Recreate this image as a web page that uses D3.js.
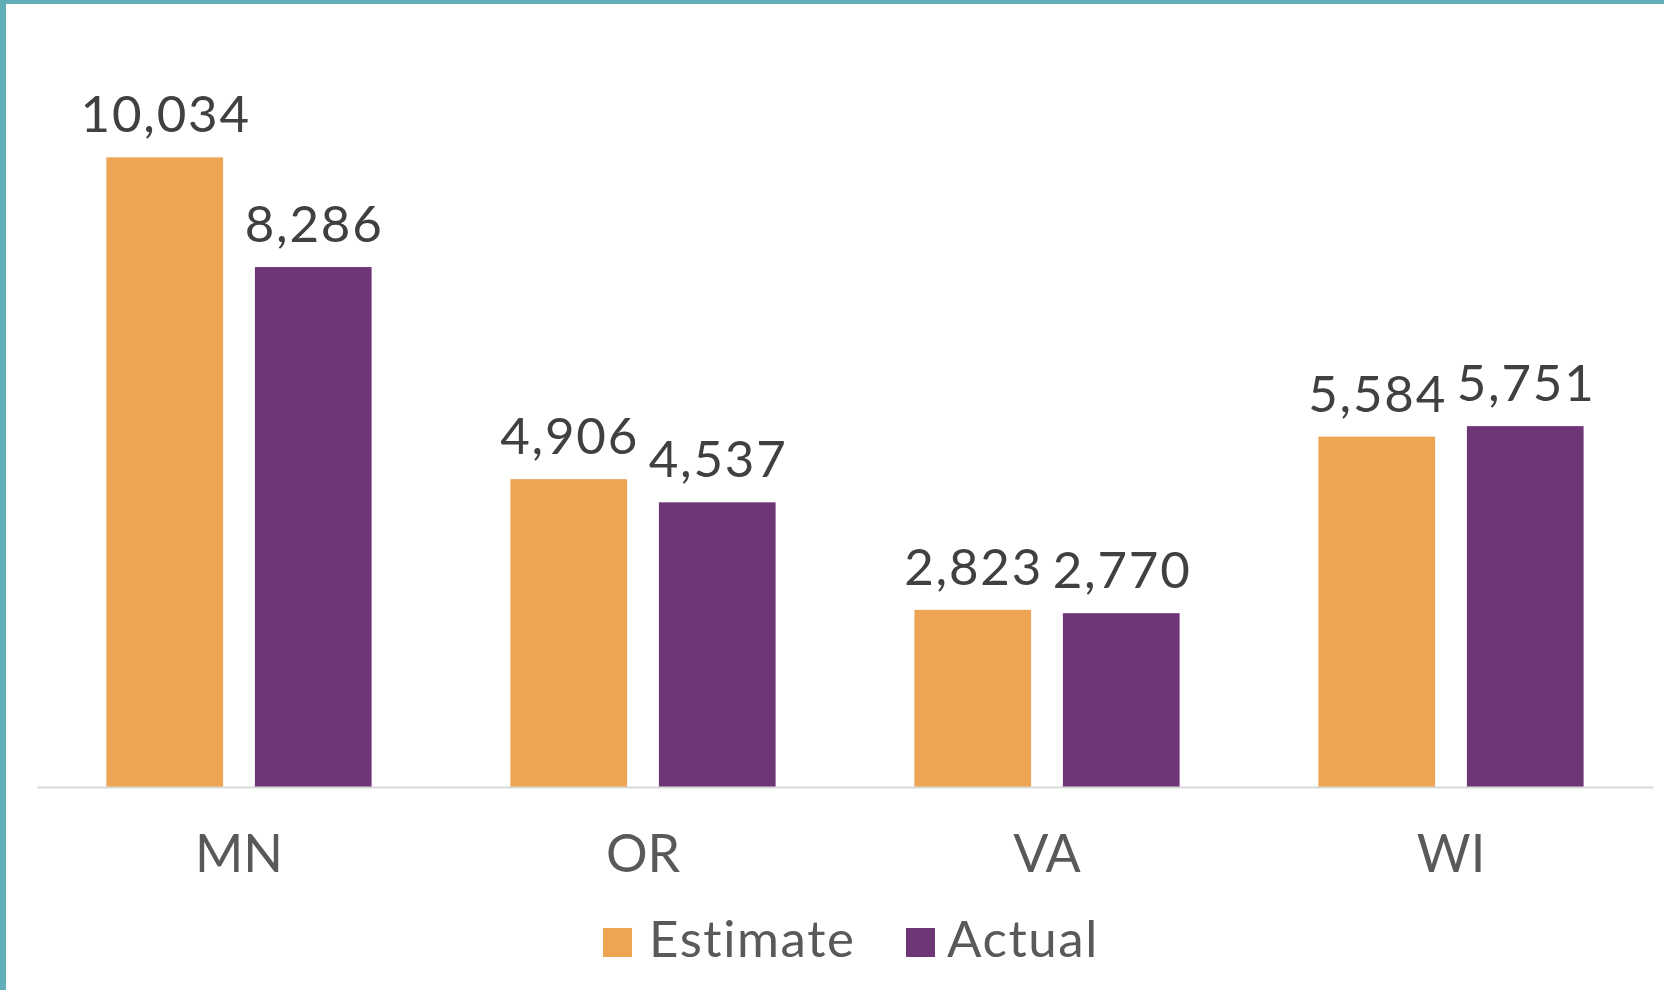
<!DOCTYPE html>
<html>
<head>
<meta charset="utf-8">
<script src="https://cdn.jsdelivr.net/npm/d3@7"></script>
<style>
  html, body { margin: 0; padding: 0; background: #fff; }
  svg { display: block; }
</style>
</head>
<body>
<svg id="chart" width="1664" height="990"></svg>
<script>
const categories = ["MN", "OR", "VA", "WI"];
const seriesNames = ["Estimate", "Actual"];
const estimateValues = [10034, 4906, 2823, 5584];
const actualValues = [8286, 4537, 2770, 5751];
const seriesColors = ["#EDA553", "#6F3677"];

const W = 1664, H = 990;
const svg = d3.select("#chart");
const font = "Lato, 'Open Sans', sans-serif";

// Border (top and left)
svg.append("rect").attr("x", 0).attr("y", 0).attr("width", W).attr("height", 4).attr("fill", "#62AEB8");
svg.append("rect").attr("x", 0).attr("y", 0).attr("width", 6).attr("height", H).attr("fill", "#62AEB8");

const plotLeft = 37, plotRight = 1653, baseY = 787, topY = 34;

const x0 = d3.scaleBand().domain(categories).range([plotLeft, plotRight]).paddingInner(0).paddingOuter(0);
const barW = 116.7, gap = 31.8;
const x1 = d3.scaleBand().domain(seriesNames)
  .range([0, barW * 2 + gap]).paddingInner(gap / (barW + gap)).paddingOuter(0);
const y = d3.scaleLinear().domain([0, 12000]).range([baseY, topY]);

const data = categories.map((c, i) => ({
  cat: c,
  vals: [
    { s: seriesNames[0], v: estimateValues[i], color: seriesColors[0] },
    { s: seriesNames[1], v: actualValues[i], color: seriesColors[1] }
  ]
}));

const groupW = barW * 2 + gap;
const groups = svg.selectAll("g.grp").data(data).join("g")
  .attr("class", "grp")
  .attr("transform", d => `translate(${x0(d.cat) + (x0.bandwidth() - groupW) / 2},0)`);

groups.selectAll("rect").data(d => d.vals).join("rect")
  .attr("x", d => x1(d.s))
  .attr("y", d => y(d.v))
  .attr("width", x1.bandwidth())
  .attr("height", d => baseY - y(d.v))
  .attr("fill", d => d.color);

const fmt = d3.format(",");
groups.selectAll("text.lbl").data(d => d.vals).join("text")
  .attr("class", "lbl")
  .attr("x", d => x1(d.s) + x1.bandwidth() / 2 + 0.9)
  .attr("y", d => y(d.v) - 25)
  .attr("text-anchor", "middle")
  .attr("font-family", font)
  .attr("font-size", 51)
  .attr("letter-spacing", 1.8)
  .attr("fill", "#404040")
  .text(d => fmt(d.v));

// Axis line
const xAxis = d3.axisBottom(x0).tickSize(0).tickPadding(0);
const axisG = svg.append("g").attr("transform", `translate(0,${baseY})`).call(xAxis);
axisG.select(".domain").attr("stroke", "#D9D9D9").attr("stroke-width", 2);
axisG.selectAll("text")
  .attr("font-family", font)
  .attr("font-size", 52)
  .attr("fill", "#595959")
  .attr("dy", null)
  .attr("y", 871.7 - baseY);

// Legend
const legendItems = [
  { name: seriesNames[0], color: seriesColors[0], sx: 603, tx: 649 },
  { name: seriesNames[1], color: seriesColors[1], sx: 906, tx: 947 }
];
const leg = svg.append("g");
legendItems.forEach(it => {
  leg.append("rect").attr("x", it.sx).attr("y", 928).attr("width", 29).attr("height", 29).attr("fill", it.color);
  leg.append("text").attr("x", it.tx).attr("y", 957)
    .attr("font-family", font).attr("font-size", 51).attr("letter-spacing", 1.6).attr("fill", "#595959")
    .text(it.name);
});
</script>
</body>
</html>
